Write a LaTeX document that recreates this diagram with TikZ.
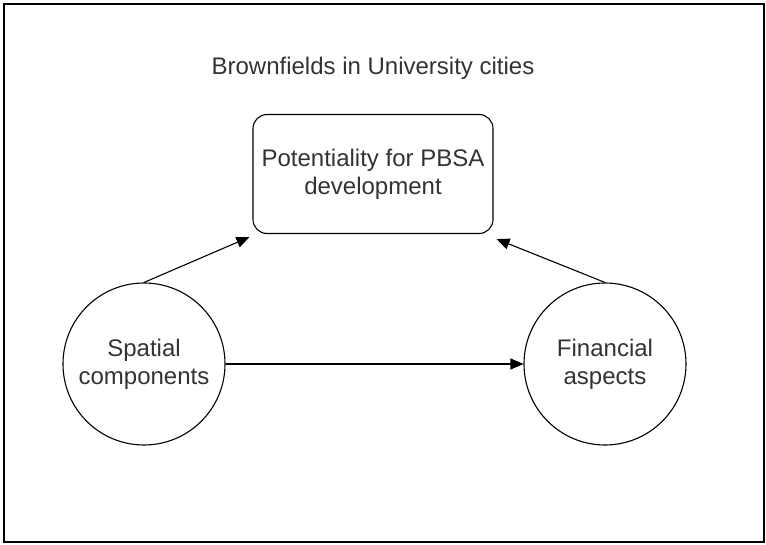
\documentclass[tikz,border=0pt]{standalone}
\usepackage{fontspec}
\setmainfont{Liberation Sans}
\usetikzlibrary{arrows.meta}
\begin{document}
\begin{tikzpicture}[x=1pt,y=-1pt,
  lbl/.style={font=\fontsize{24}{28}\selectfont, text=black!80, align=center},
  circ/.style={draw, circle, line width=1.1pt, minimum size=162pt, inner sep=0pt, lbl},
  conn/.style={line width=1.1pt, -{Triangle[length=13pt,width=11pt]}}]
\useasboundingbox (0,0) rectangle (766,545);
\node[draw, line width=1.6pt, minimum width=760pt, minimum height=538pt, inner sep=0pt] (frame) at (384,273) {};
\node[lbl] (title) at (373,68) {Brownfields in University cities};
\node[draw, rounded corners=14pt, line width=1.1pt, minimum width=240pt, minimum height=119pt, inner sep=0pt, lbl] (box) at (373,174) {Potentiality for PBSA\\development};
\node[circ] (sp) at (144,364) {Spatial\\components};
\node[circ] (fin) at (605,364) {Financial\\aspects};
\draw[conn] (sp.north) -- ([xshift=-3pt,yshift=-3pt]box.south west);
\draw[conn] (fin.north) -- ([xshift=3pt,yshift=-5pt]box.south east);
\draw[conn] (sp.east) -- (fin.west);
\end{tikzpicture}
\end{document}
